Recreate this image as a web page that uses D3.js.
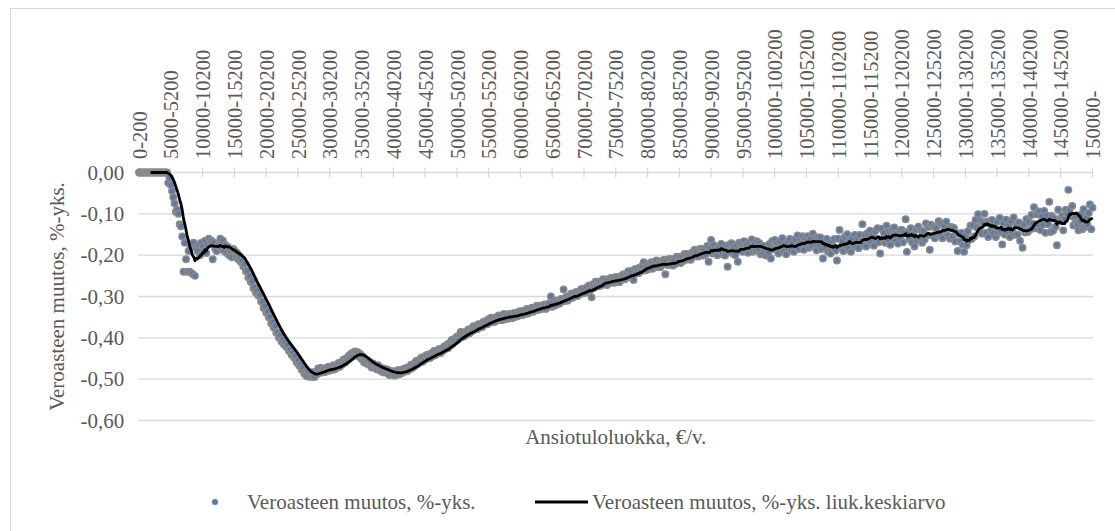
<!DOCTYPE html>
<html>
<head>
<meta charset="utf-8">
<script src="https://cdn.jsdelivr.net/npm/d3@7"></script>
<style>
  body { margin: 0; background: #fff; }
  svg text { font-family: "Liberation Serif", "Times New Roman", serif; fill: #595959; }
</style>
</head>
<body>
<div id="chart"></div>
<script>
// income classes: 0-200, 200-400, ... 149800-150000 and the open class 150000-
const binWidth = 200;
const binCount = 750;
const categories = d3.range(binCount)
    .map(i => `${i * binWidth}-${(i + 1) * binWidth}`)
    .concat([`${binCount * binWidth}-`]);
const labelEvery = 25;

const yTicks = [0, -0.1, -0.2, -0.3, -0.4, -0.5, -0.6];

// change in tax rate, %-points, one value per income class
const taxChange = [
  0, 0, 0, 0, 0,  0, 0, 0, 0, 0,  0, 0, 0, 0, 0,  0, 0, 0, 0, 0,  0, 0, 0, -0.025, -0.012,
  -0.03, -0.045, -0.06, -0.075, -0.095,  -0.09, -0.10, -0.125, -0.13, -0.155,  -0.24, -0.17, -0.21, -0.24, -0.19,  -0.24, -0.18, -0.245, -0.17, -0.25,  -0.18, -0.19, -0.175, -0.20, -0.17,
  -0.18, -0.19, -0.165, -0.195, -0.175,  -0.16, -0.17, -0.165, -0.21, -0.17,  -0.185, -0.19, -0.175, -0.18, -0.16,  -0.185, -0.165, -0.19, -0.175, -0.195,  -0.18, -0.2, -0.19, -0.205, -0.185,
  -0.188, -0.203, -0.194, -0.21, -0.201,  -0.216, -0.214, -0.227, -0.222, -0.239,  -0.238, -0.254, -0.251, -0.265, -0.263,  -0.28, -0.278, -0.291, -0.286, -0.298,  -0.296, -0.312, -0.312, -0.328, -0.324,
  -0.339, -0.336, -0.35, -0.349, -0.365,  -0.362, -0.375, -0.371, -0.388, -0.387,  -0.399, -0.394, -0.409, -0.404, -0.416,  -0.411, -0.422, -0.417, -0.432, -0.428,  -0.441, -0.436, -0.448, -0.444, -0.459,
  -0.454, -0.467, -0.464, -0.477, -0.472,  -0.487, -0.481, -0.493, -0.483, -0.494,  -0.484, -0.494, -0.483, -0.495, -0.483,  -0.488, -0.474, -0.484, -0.473, -0.484,  -0.475, -0.483, -0.473, -0.48, -0.47,
  -0.479, -0.471, -0.477, -0.466, -0.476,  -0.467, -0.472, -0.461, -0.47, -0.459,  -0.464, -0.452, -0.46, -0.45, -0.454,  -0.443, -0.448, -0.438, -0.445, -0.435,  -0.433, -0.441, -0.435, -0.445, -0.439,
  -0.451, -0.445, -0.459, -0.453, -0.462,  -0.455, -0.465, -0.46, -0.472, -0.462,  -0.472, -0.467, -0.476, -0.466, -0.478,  -0.472, -0.482, -0.474, -0.484, -0.475,  -0.484, -0.478, -0.49, -0.481, -0.489,
  -0.481, -0.491, -0.482, -0.489, -0.478,  -0.488, -0.479, -0.485, -0.475, -0.481,  -0.473, -0.481, -0.471, -0.476, -0.465,  -0.473, -0.463, -0.468, -0.456, -0.464,  -0.454, -0.459, -0.448, -0.458, -0.446,
  -0.453, -0.442, -0.449, -0.44, -0.449,  -0.438, -0.444, -0.432, -0.442, -0.432,  -0.438, -0.427, -0.437, -0.426, -0.432,  -0.421, -0.427, -0.417, -0.425, -0.413,  -0.418, -0.405, -0.414, -0.403, -0.408,
  -0.397, -0.404, -0.394, -0.386, -0.398,  -0.387, -0.396, -0.386, -0.391, -0.38,  -0.389, -0.379, -0.384, -0.372, -0.38,  -0.372, -0.379, -0.367, -0.375, -0.367,  -0.374, -0.361, -0.367, -0.359, -0.367,
  -0.355, -0.363, -0.351, -0.362, -0.353,  -0.361, -0.35, -0.356, -0.346, -0.357,  -0.347, -0.357, -0.342, -0.354, -0.346,  -0.354, -0.342, -0.351, -0.343, -0.352,  -0.34, -0.349, -0.341, -0.348, -0.336,
  -0.345, -0.335, -0.345, -0.336, -0.342,  -0.33, -0.341, -0.331, -0.337, -0.327,  -0.337, -0.327, -0.333, -0.322, -0.332,  -0.322, -0.331, -0.322, -0.328, -0.319,  -0.33, -0.319, -0.325, -0.316, -0.30,
  -0.325, -0.315, -0.322, -0.31, -0.319,  -0.31, -0.317, -0.306, -0.311, -0.283,  -0.311, -0.301, -0.31, -0.299, -0.305,  -0.293, -0.303, -0.292, -0.298, -0.289,  -0.299, -0.288, -0.294, -0.282, -0.292,
  -0.282, -0.291, -0.278, -0.286, -0.273,  -0.284, -0.302, -0.271, -0.279, -0.264,  -0.274, -0.264, -0.275, -0.265, -0.272,  -0.258, -0.269, -0.259, -0.272, -0.259,  -0.268, -0.255, -0.265, -0.255, -0.267,
  -0.253, -0.264, -0.254, -0.265, -0.251,  -0.259, -0.246, -0.258, -0.246, -0.254,  -0.239, -0.25, -0.239, -0.25, -0.26,  -0.234, -0.243, -0.233, -0.244, -0.23,  -0.238, -0.226, -0.217, -0.237, -0.226,
  -0.235, -0.221, -0.231, -0.217, -0.233,  -0.219, -0.226, -0.213, -0.229, -0.217,  -0.229, -0.214, -0.223, -0.211, -0.246,  -0.213, -0.224, -0.209, -0.223, -0.21,  -0.225, -0.212, -0.221, -0.204, -0.216,
  -0.205, -0.219, -0.205, -0.214, -0.197,  -0.211, -0.197, -0.21, -0.198, -0.211,  -0.194, -0.203, -0.187, -0.203, -0.191,  -0.203, -0.185, -0.197, -0.185, -0.201,  -0.186, -0.197, -0.178, -0.216, -0.183,
  -0.163, -0.196, -0.176, -0.194, -0.184,  -0.2, -0.179, -0.192, -0.173, -0.198,  -0.182, -0.201, -0.177, -0.228, -0.175,  -0.192, -0.171, -0.196, -0.179, -0.2,  -0.175, -0.216, -0.17, -0.188, -0.171,
  -0.192, -0.166, -0.187, -0.173, -0.194,  -0.169, -0.184, -0.162, -0.192, -0.173,  -0.189, -0.166, -0.185, -0.171, -0.198,  -0.177, -0.196, -0.178, -0.201, -0.184,  -0.194, -0.173, -0.208, -0.166, -0.185,
  -0.163, -0.187, -0.171, -0.196, -0.167,  -0.183, -0.159, -0.191, -0.174, -0.198,  -0.169, -0.184, -0.161, -0.188, -0.171,  -0.192, -0.162, -0.181, -0.152, -0.185,  -0.163, -0.173, -0.154, -0.187, -0.158,
  -0.175, -0.154, -0.182, -0.16, -0.177,  -0.148, -0.171, -0.158, -0.188, -0.157,  -0.177, -0.157, -0.185, -0.208, -0.166,  -0.183, -0.161, -0.191, -0.173, -0.196,  -0.166, -0.18, -0.161, -0.189, -0.213,
  -0.16, -0.139, -0.181, -0.165, -0.19,  -0.156, -0.178, -0.149, -0.184, -0.166,  -0.192, -0.159, -0.174, -0.151, -0.179,  -0.158, -0.183, -0.151, -0.168, -0.125,  -0.176, -0.151, -0.179, -0.147, -0.165,
  -0.141, -0.169, -0.151, -0.177, -0.142,  -0.161, -0.135, -0.169, -0.196, -0.136,  -0.162, -0.146, -0.17, -0.129, -0.163,  -0.142, -0.175, -0.137, -0.157, -0.133,  -0.165, -0.146, -0.172, -0.14, -0.16,
  -0.139, -0.169, -0.145, -0.113, -0.192,  -0.143, -0.161, -0.135, -0.169, -0.15,  -0.179, -0.138, -0.164, -0.131, -0.159,  -0.14, -0.17, -0.142, -0.162, -0.123,  -0.152, -0.132, -0.187, -0.126, -0.152,
  -0.131, -0.159, -0.135, -0.151, -0.118,  -0.148, -0.124, -0.159, -0.129, -0.143,  -0.119, -0.152, -0.134, -0.16, -0.132,  -0.155, -0.134, -0.167, -0.147, -0.19,  -0.148, -0.167, -0.146, -0.175, -0.192,
  -0.153, -0.176, -0.142, -0.163, -0.129,  -0.161, -0.128, -0.155, -0.115, -0.133,  -0.101, -0.138, -0.117, -0.148, -0.121,  -0.1, -0.146, -0.119, -0.156, -0.118,  -0.141, -0.115, -0.147, -0.131, -0.156,
  -0.119, -0.146, -0.11, -0.142, -0.174,  -0.122, -0.15, -0.114, -0.143, -0.127,  -0.156, -0.118, -0.144, -0.109, -0.151,  -0.127, -0.15, -0.121, -0.165, -0.132,  -0.182, -0.126, -0.145, -0.113, -0.144,
  -0.12, -0.138, -0.103, -0.124, -0.084,  -0.135, -0.101, -0.127, -0.094, -0.139,  -0.105, -0.126, -0.093, -0.146, -0.104,  -0.125, -0.071, -0.144, -0.105, -0.141,  -0.111, -0.131, -0.176, -0.09, -0.114,
  -0.118, -0.105, -0.14, -0.112, -0.09,  -0.1, -0.042, -0.09, -0.105, -0.081,  -0.128, -0.11, -0.12, -0.125, -0.14,  -0.118, -0.102, -0.137, -0.089, -0.132,  -0.11, -0.127, -0.098, -0.077, -0.137,
  -0.085
];

// moving average trendline period (Excel "liuk.keskiarvo")
const maPeriod = 10;

const seriesName = 'Veroasteen muutos, %-yks.';
const trendName = 'Veroasteen muutos, %-yks. liuk.keskiarvo';
const xTitle = 'Ansiotuloluokka, €/v.';
const yTitle = 'Veroasteen muutos, %-yks.';

const width = 1115;
const height = 531;
const dotFill = '#5a79a6';
const dotStroke = '#8a8a8a';
const gridColor = '#d9d9d9';
const serif = '"Liberation Serif", "Times New Roman", serif';

const svg = d3.select('#chart').append('svg')
    .attr('width', width)
    .attr('height', height)
    .attr('font-family', serif);

// chart area border (runs off the right and bottom of the picture)
svg.append('rect')
    .attr('x', 10.5).attr('y', 8.5)
    .attr('width', 1130).attr('height', 540)
    .attr('fill', 'none')
    .attr('stroke', gridColor)
    .attr('stroke-width', 1);

const x = d3.scalePoint()
    .domain(categories)
    .range([139, 1092.5]);

const y = d3.scaleLinear()
    .domain([-0.6, 0])
    .range([420.5, 172.5]);

const plotLeft = x.range()[0] - x.step() / 2;
const plotRight = x.range()[1] + x.step() / 2;

const fiLocale = d3.formatLocale({ decimal: ',', thousands: ' ', grouping: [3], currency: ['', '€'], minus: '-' });
const fmt = fiLocale.format('.2f');

// horizontal gridlines
svg.append('g')
    .selectAll('line')
    .data(yTicks)
    .enter()
    .append('line')
    .attr('x1', plotLeft)
    .attr('x2', plotRight)
    .attr('y1', d => y(d))
    .attr('y2', d => y(d))
    .attr('stroke', gridColor)
    .attr('stroke-width', 1.3);

// y axis labels
const yAxis = svg.append('g')
    .attr('transform', `translate(${plotLeft},0)`)
    .call(d3.axisLeft(y).tickValues(yTicks).tickSize(0).tickPadding(14).tickFormat(fmt))
    .attr('font-family', serif);
yAxis.select('.domain').remove();
yAxis.selectAll('text')
    .style('font-size', '21px')
    .attr('fill', '#595959');

// category axis sits at y = 0, labels on top rotated
const tickCats = categories.filter((d, i) => i % labelEvery === 0);
const xAxis = svg.append('g')
    .attr('transform', `translate(0,${y(0)})`)
    .call(d3.axisTop(x).tickValues(tickCats).tickSize(0))
    .attr('font-family', serif);
xAxis.select('.domain').remove();
xAxis.selectAll('text')
    .attr('transform', 'rotate(-90)')
    .attr('x', 13.5)
    .attr('y', 0)
    .attr('dy', '0.35em')
    .attr('fill', '#595959')
    .style('text-anchor', 'start')
    .style('font-size', '20.5px');

// cross tick marks
svg.append('g')
    .selectAll('line')
    .data(tickCats)
    .enter()
    .append('line')
    .attr('x1', d => x(d))
    .attr('x2', d => x(d))
    .attr('y1', y(0) - 5)
    .attr('y2', y(0) + 5)
    .attr('stroke', gridColor)
    .attr('stroke-width', 1.3);

// points
const points = taxChange.map((v, i) => ({ cat: categories[i], value: v, index: i }));

svg.append('g')
    .selectAll('circle')
    .data(points)
    .enter()
    .append('circle')
    .attr('cx', d => x(d.cat))
    .attr('cy', d => y(d.value))
    .attr('r', 3.2)
    .attr('fill', dotFill)
    .attr('stroke', dotStroke)
    .attr('stroke-width', 1.5);

// moving average trendline computed from the points
const trend = points.slice(maPeriod - 1).map(p => ({
    cat: p.cat,
    value: d3.mean(taxChange.slice(p.index - maPeriod + 1, p.index + 1))
}));

const line = d3.line()
    .x(d => x(d.cat))
    .y(d => y(d.value));

svg.append('path')
    .datum(trend)
    .attr('d', line)
    .attr('fill', 'none')
    .attr('stroke', '#000')
    .attr('stroke-width', 2.8)
    .attr('stroke-linejoin', 'round');

// axis titles
svg.append('text')
    .attr('x', (plotLeft + plotRight) / 2)
    .attr('y', 444)
    .attr('text-anchor', 'middle')
    .style('font-size', '21px')
    .text(xTitle);

svg.append('text')
    .attr('transform', `translate(57,${(y(0) + y(-0.6)) / 2}) rotate(-90)`)
    .attr('text-anchor', 'middle')
    .attr('dy', '0.35em')
    .style('font-size', '21px')
    .text(yTitle);

// legend
const legendY = 502;
const legend = svg.append('g');
legend.append('circle')
    .attr('cx', 215).attr('cy', legendY)
    .attr('r', 3)
    .attr('fill', dotFill)
    .attr('stroke', '#9aa6b8')
    .attr('stroke-width', 0.8);
legend.append('text')
    .attr('x', 247).attr('y', legendY)
    .attr('dy', '0.35em')
    .style('font-size', '21px')
    .text(seriesName);
legend.append('line')
    .attr('x1', 535).attr('x2', 588)
    .attr('y1', legendY).attr('y2', legendY)
    .attr('stroke', '#000')
    .attr('stroke-width', 2.8);
legend.append('text')
    .attr('x', 592).attr('y', legendY)
    .attr('dy', '0.35em')
    .style('font-size', '21px')
    .text(trendName);
</script>
</body>
</html>
